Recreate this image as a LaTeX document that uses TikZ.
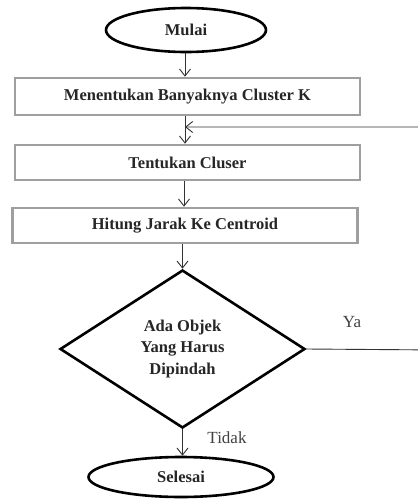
\documentclass[tikz,border=0pt]{standalone}
\usepackage{fontspec}
\setmainfont{Liberation Serif}
\usetikzlibrary{shapes.geometric,arrows.meta}
\begin{document}
\begin{tikzpicture}[x=1pt,y=-1pt,
  txt/.style={font=\bfseries\fontsize{16.5}{21.5}\selectfont,text=black!85},
  term/.style={txt,ellipse,draw=black,line width=2.6pt,inner sep=0pt},
  proc/.style={txt,rectangle,draw=gray!75,line width=2.6pt,inner sep=0pt,minimum width=345pt},
  dec/.style={txt,diamond,draw=black,line width=2.6pt,inner sep=0pt,minimum width=245pt,minimum height=158pt,align=center},
  flow/.style={draw=black!80,line width=0.9pt,-{Straight Barb[length=7pt,width=11pt]}},
  lab/.style={font=\fontsize{17}{20}\selectfont,text=black!75}
]
\clip (0,0) rectangle (418,499);
\node[term,minimum width=160pt,minimum height=44pt] (mulai) at (186,30) {Mulai};
\node[proc,minimum height=37pt] (b1) at (187.5,96.5) {Menentukan Banyaknya Cluster K};
\node[proc,minimum height=35pt] (b2) at (187.5,162.5) {Tentukan Cluser};
\node[proc,minimum height=35pt] (b3) at (185,225.5) {Hitung Jarak Ke Centroid};
\node[dec] (d) at (182.5,349) {Ada Objek\\Yang Harus\\Dipindah};
\node[term,minimum width=185pt,minimum height=40pt] (sel) at (181,477) {Selesai};
\node[lab] (ya) at (352,322) {Ya};
\node[lab] (tidak) at (227,438) {Tidak};
\coordinate (j) at (185,127);
\coordinate (r) at (440,350);
\draw[flow] (mulai.south -| 185,0) -- (185,0 |- b1.north);
\draw[flow] (185,0 |- b1.south) -- (185,0 |- b2.north);
\draw[flow] (184,0 |- b2.south) -- (184,0 |- b3.north);
\draw[flow] (d.north |- b3.south) -- (d.north);
\draw[flow] (d.south) -- (d.south |- sel.north);
\draw[flow] (d.east) -- (r) |- (j);
\end{tikzpicture}
\end{document}
